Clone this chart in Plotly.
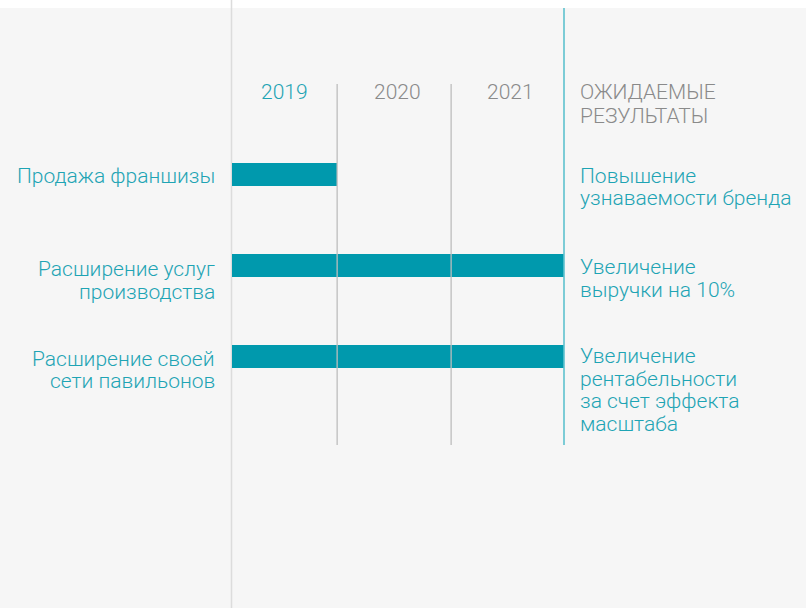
import plotly.graph_objects as go

# ---- data ----
years = ["2019", "2020", "2021"]
year_end = [0.95, 1.98, 3.0]          # timeline position where each year ends
initiatives = [
    ["Продажа франшизы"],
    ["Расширение услуг", "производства"],
    ["Расширение своей", "сети павильонов"],
]
initiative_last_year = ["2019", "2021", "2021"]
results = [
    ["Повышение", "узнаваемости бренда"],
    ["Увеличение", "выручки на 10%"],
    ["Увеличение", "рентабельности", "за счет эффекта", "масштаба"],
]
results_header = ["ОЖИДАЕМЫЕ", "РЕЗУЛЬТАТЫ"]

# ---- style ----
W, H = 806, 608
BG = "#f6f6f6"
BAR = "#0099ad"
TEAL_TXT = "#1ea4b4"
GRAY_TXT = "#8a8a8a"
FONT = "Roboto"
FS = 21
FS_YEAR = 21
LINE_R = 22.5
LINE_L = 22.5
LEFT_OFF = [1, 3.5, 2]
RIGHT_OFF = [1, 1.5, -0.5]

x0_px, x1_px = 232, 564
row0_px, row_step = 174.5, 91

def px_to_paper_y(py):
    return 1 - py / H

def data_to_paper_x(v):
    return (x0_px + v / year_end[-1] * (x1_px - x0_px)) / W

bar_ends = [year_end[years.index(y)] for y in initiative_last_year]
rows = list(range(len(initiatives)))

fig = go.Figure()
fig.add_trace(go.Bar(
    y=rows, x=bar_ends, base=[0] * len(rows), orientation="h",
    width=23 / row_step, marker=dict(color=BAR, line=dict(width=0)),
    hoverinfo="skip", showlegend=False,
))

shapes = []
# white band on top
shapes.append(dict(type="rect", xref="paper", yref="paper", x0=0, x1=1,
                   y0=px_to_paper_y(8), y1=1, fillcolor="white",
                   line=dict(width=0), layer="below"))
# left vertical divider
shapes.append(dict(type="line", xref="paper", yref="paper",
                   x0=231.5 / W, x1=231.5 / W, y0=0, y1=1,
                   line=dict(color="#dcdcdc", width=1.5), layer="below"))
# year separators
for i, e in enumerate(year_end):
    xp = data_to_paper_x(e)
    if i < len(year_end) - 1:
        shapes.append(dict(type="line", xref="paper", yref="paper", x0=xp, x1=xp,
                           y0=px_to_paper_y(445), y1=px_to_paper_y(84),
                           line=dict(color="#bdbdbd", width=1.3), layer="above"))
    else:
        shapes.append(dict(type="line", xref="paper", yref="paper", x0=xp, x1=xp,
                           y0=px_to_paper_y(445), y1=px_to_paper_y(8),
                           line=dict(color="#5ec2cf", width=1.6), layer="above"))

annotations = []
# year labels
starts = [0] + year_end[:-1]
for i, yr in enumerate(years):
    annotations.append(dict(
        x=(starts[i] + year_end[i]) / 2, xref="x", y=px_to_paper_y(92), yref="paper",
        xshift=0 if i == 0 else 3,
        text=yr, showarrow=False, xanchor="center", yanchor="middle",
        font=dict(family=FONT, size=FS_YEAR, weight=300,
                  color=TEAL_TXT if i == 0 else GRAY_TXT)))
# header
for j, t in enumerate(results_header):
    annotations.append(dict(
        x=578 / W, xref="paper", y=px_to_paper_y(92 + j * 24), yref="paper",
        text=t, showarrow=False, xanchor="left", yanchor="middle",
        font=dict(family=FONT, size=FS, weight=300, color=GRAY_TXT)))
# left labels
for r, lines in enumerate(initiatives):
    for j, t in enumerate(lines):
        annotations.append(dict(
            x=217 / W, xref="paper", y=rows[r], yref="y",
            yshift=-(LEFT_OFF[r] + j * LINE_L), text=t, showarrow=False,
            xanchor="right", yanchor="middle",
            font=dict(family=FONT, size=FS, weight=300, color=TEAL_TXT)))
# right labels
for r, lines in enumerate(results):
    for j, t in enumerate(lines):
        annotations.append(dict(
            x=578 / W, xref="paper", y=rows[r], yref="y",
            yshift=-(RIGHT_OFF[r] + j * LINE_R), text=t, showarrow=False,
            xanchor="left", yanchor="middle",
            font=dict(family=FONT, size=FS, weight=300, color=TEAL_TXT)))

fig.update_layout(
    width=W, height=H, margin=dict(l=0, r=0, t=0, b=0),
    paper_bgcolor=BG, plot_bgcolor="rgba(0,0,0,0)",
    xaxis=dict(domain=[x0_px / W, x1_px / W], range=[0, year_end[-1]],
               visible=False, fixedrange=True),
    yaxis=dict(domain=[0, 1],
               range=[(H - row0_px) / row_step, -row0_px / row_step],
               visible=False, fixedrange=True),
    shapes=shapes, annotations=annotations, bargap=0,
)
fig.write_html("out.html", config={"displayModeBar": False},
               post_script="document.body.style.margin='0';document.body.style.overflow='hidden';")
